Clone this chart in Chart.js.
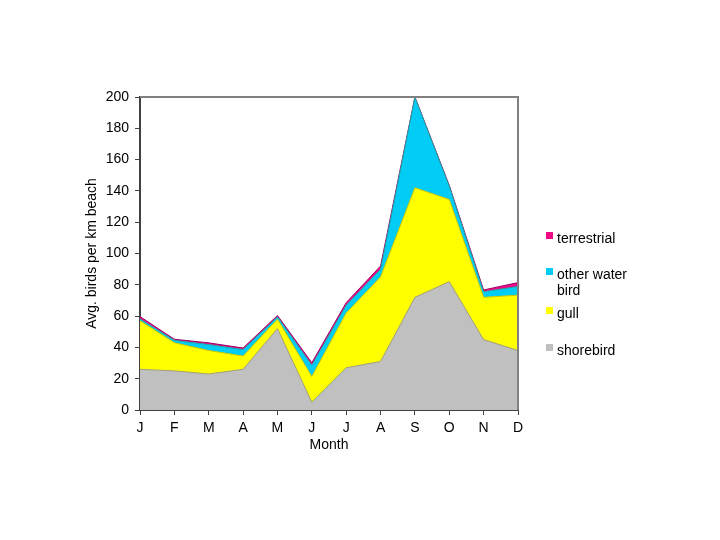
<!DOCTYPE html>
<html>
<head>
<meta charset="utf-8">
<script src="https://cdn.jsdelivr.net/npm/chart.js@4.4.1/dist/chart.umd.min.js"></script>
<style>
  html, body { margin: 0; padding: 0; background: #fff; }
  #wrap { position: relative; width: 720px; height: 540px; }
</style>
</head>
<body>
<div id="wrap"><canvas id="chart" width="720" height="540"></canvas></div>
<script>
const months = ['J', 'F', 'M', 'A', 'M', 'J', 'J', 'A', 'S', 'O', 'N', 'D'];
const shorebird = [26, 25, 23, 26, 52, 5, 27, 31, 72, 82, 45, 38];
const gull = [31, 18, 15, 8.5, 6, 16.4, 35, 54, 70, 52.5, 27, 35.4];
const otherWater = [1.2, 1.5, 3.8, 4.1, 1.5, 7.2, 4.9, 4.9, 57.8, 8.5, 3.6, 5.5];
const terrestrial = [1.5, 0.7, 1.1, 1.0, 0.9, 1.6, 1.7, 2.1, 0.2, 0.5, 1.1, 2.5];

Chart.defaults.font.family = '"Liberation Sans", Arial, sans-serif';
Chart.defaults.font.size = 14;
Chart.defaults.color = '#000';

// legend drawn by hand so it can wrap "other water bird" like the original
const sideLegend = {
  id: 'sideLegend',
  afterDraw(chart) {
    const ctx = chart.ctx;
    const a = chart.chartArea;
    ctx.save();
    // top & right frame of the plot
    ctx.strokeStyle = '#808080';
    ctx.lineWidth = 2;
    ctx.beginPath();
    ctx.moveTo(a.left, a.top);
    ctx.lineTo(a.right, a.top);
    ctx.lineTo(a.right, a.bottom);
    ctx.stroke();

    const items = [
      { lines: ['terrestrial'], y: 239, color: '#ee0a86' },
      { lines: ['other water', 'bird'], y: 275, color: '#00ccf5' },
      { lines: ['gull'], y: 314, color: '#ffff00' },
      { lines: ['shorebird'], y: 351, color: '#c0c0c0' }
    ];
    ctx.font = '14px "Liberation Sans", Arial, sans-serif';
    ctx.textBaseline = 'middle';
    items.forEach(it => {
      ctx.fillStyle = it.color;
      ctx.fillRect(546, it.y - 7, 7, 7);
      ctx.fillStyle = '#000';
      it.lines.forEach((t, i) => ctx.fillText(t, 557, it.y + i * 16));
    });
    ctx.restore();
  }
};

new Chart(document.getElementById('chart'), {
  type: 'line',
  data: {
    labels: months,
    datasets: [
      { label: 'shorebird', data: shorebird, backgroundColor: '#c0c0c0', borderColor: '#a0a070', borderWidth: 1, fill: 'origin' },
      { label: 'gull', data: gull, backgroundColor: '#ffff00', borderColor: '#c8c800', borderWidth: 1, fill: '-1' },
      { label: 'other water bird', data: otherWater, backgroundColor: '#00ccf5', borderColor: '#20a0a0', borderWidth: 1, fill: '-1' },
      { label: 'terrestrial', data: terrestrial, backgroundColor: '#ee0a86', borderColor: '#a0006a', borderWidth: 1, fill: '-1' }
    ]
  },
  options: {
    responsive: false,
    animation: false,
    layout: { padding: { left: 80, right: 202, top: 97, bottom: 80 } },
    elements: { point: { radius: 0 }, line: { tension: 0 } },
    plugins: { legend: { display: false }, tooltip: { enabled: false } },
    scales: {
      x: {
        offset: false,
        grid: { display: true, drawOnChartArea: false, drawTicks: true, tickLength: 5, color: '#404040', lineWidth: 1 },
        border: { display: true, color: '#404040', width: 2 },
        ticks: { padding: 5, autoSkip: false, maxRotation: 0 },
        title: { display: true, text: 'Month', padding: { top: 0, bottom: 6 } },
        afterFit(s) { s.height = 50; }
      },
      y: {
        stacked: true,
        min: 0,
        max: 200,
        ticks: { stepSize: 20, padding: 6 },
        grid: { display: true, drawOnChartArea: false, drawTicks: true, tickLength: 5, color: '#404040', lineWidth: 1 },
        border: { display: true, color: '#404040', width: 2 },
        title: { display: true, text: 'Avg. birds per km beach', padding: { bottom: 4 } },
        afterFit(s) { s.width = 60; }
      }
    }
  },
  plugins: [sideLegend]
});
</script>
</body>
</html>
